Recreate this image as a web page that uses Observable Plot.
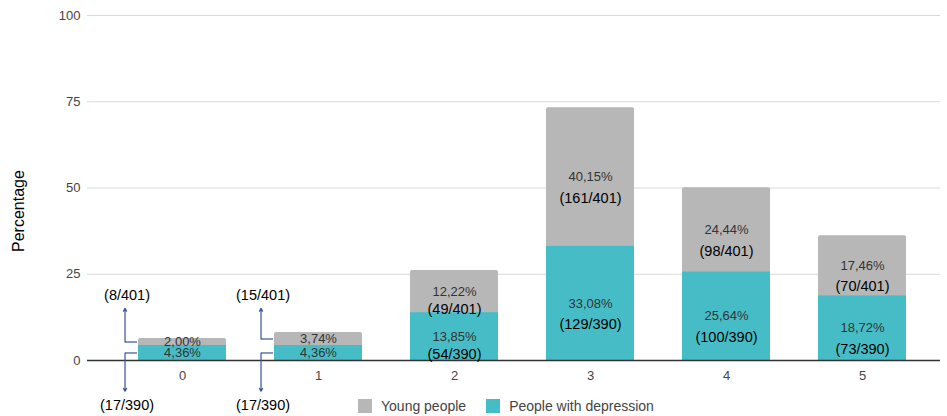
<!DOCTYPE html>
<html>
<head>
<meta charset="utf-8">
<script src="https://cdn.jsdelivr.net/npm/d3@7"></script>
<script src="https://cdn.jsdelivr.net/npm/@observablehq/plot@0.6"></script>
<style>
  html, body { margin: 0; padding: 0; background: #fff; }
  body { font-family: "Liberation Sans", Arial, sans-serif; }
  #wrap { position: relative; width: 947px; height: 416px; overflow: hidden; }
  #legend { position: absolute; top: 398px; left: 358px; display: flex; align-items: center;
            font-size: 14px; color: #444; line-height: 16px; }
  #legend .item { display: flex; align-items: center; margin-right: 20px; }
  #legend .sw { width: 14px; height: 14px; margin-right: 9px; }
</style>
</head>
<body>
<div id="wrap"></div>
<script>
// ---- data ----
const categories = ["0", "1", "2", "3", "4", "5"];
const depressionPct = [4.36, 4.36, 13.85, 33.08, 25.64, 18.72];
const youngPct = [2.00, 3.74, 12.22, 40.15, 24.44, 17.46];
const depressionCounts = ["(17/390)", "(17/390)", "(54/390)", "(129/390)", "(100/390)", "(73/390)"];
const youngCounts = ["(8/401)", "(15/401)", "(49/401)", "(161/401)", "(98/401)", "(70/401)"];
const yTicks = [0, 25, 50, 75, 100];
const seriesNames = ["Young people", "People with depression"];
const seriesColors = ["#b7b7b7", "#46bdc6"];

// ---- layout ----
const xRange = [88, 957];
const xPadding = 0.35;
const bw = d3.scaleBand(categories, xRange).padding(xPadding).bandwidth();
const gap = 13;
const leaderColor = "#34549a";
const leaderEnd = {top: 15.1, bottom: -8.9};
const leaderLabel = {top: 18.8, bottom: -13.0};

const rows = [];
categories.forEach((c, i) => {
  rows.push({cat: c, series: seriesNames[1], part: "bottom", y1: 0, y2: depressionPct[i], value: depressionPct[i], count: depressionCounts[i]});
  rows.push({cat: c, series: seriesNames[0], part: "top", y1: depressionPct[i], y2: depressionPct[i] + youngPct[i], value: youngPct[i], count: youngCounts[i]});
});
rows.forEach(r => r.mid = (r.y1 + r.y2) / 2);
const fmt = v => v.toFixed(2).replace(".", ",") + "%";
const insideBig = rows.filter(r => r.value >= 15);
const insideSmall = rows.filter(r => r.value >= 5 && r.value < 15);
const outside = rows.filter(r => r.value < 5);
const topRows = rows.filter(r => r.part === "top");
const bottomRows = rows.filter(r => r.part === "bottom");

const chart = Plot.plot({
  width: 947,
  height: 416,
  marginLeft: 87,
  marginRight: 7,
  marginTop: 15,
  marginBottom: 56,
  style: {fontFamily: "'Liberation Sans', Arial, sans-serif", fontSize: "13px", color: "#444", background: "#fff", overflow: "visible"},
  x: {domain: categories, range: xRange, padding: xPadding, label: null, tickSize: 0, tickPadding: 10},
  y: {domain: [0, 100], ticks: yTicks, tickSize: 0, tickPadding: 7, label: null},
  color: {domain: seriesNames, range: seriesColors},
  marks: [
    Plot.ruleY(yTicks.filter(t => t > 0), {stroke: "#d9d9d9"}),
    // full stacked height in grey (rounded top), depression part drawn over it
    Plot.barY(topRows, {x: "cat", y1: 0, y2: "y2", fill: "series", rx: 2}),
    Plot.barY(bottomRows, {x: "cat", y1: "y1", y2: "y2", fill: "series"}),
    Plot.ruleY([0], {stroke: "#333", strokeWidth: 1.3}),
    Plot.text(rows, {x: "cat", y: "mid", text: d => fmt(d.value), fill: "#333", fontSize: 13}),
    Plot.text(insideBig, {x: "cat", y: "mid", text: "count", dy: 21, fill: "#000", fontSize: 14.5}),
    Plot.text(insideSmall, {x: "cat", y: "mid", text: "count", dy: 17.5, fill: "#000", fontSize: 14.5}),
    Plot.tickY(outside, {x: "cat", y: "mid", dx: -gap, insetRight: bw - gap, stroke: leaderColor, strokeWidth: 1.2}),
    Plot.arrow(outside, {x1: "cat", x2: "cat", y1: "mid", y2: d => leaderEnd[d.part], dx: -(bw / 2 + gap), stroke: leaderColor, strokeWidth: 1.2, headLength: 4}),
    Plot.text(outside, {x: "cat", y: d => leaderLabel[d.part], text: "count", dx: -(bw / 2 + gap) + 2, fill: "#000", fontSize: 14.5}),
    Plot.text(["Percentage"], {text: d => d, frameAnchor: "left", rotate: -90, dx: -69, dy: 64, fill: "#000", fontSize: 16})
  ]
});

const wrap = document.getElementById("wrap");
wrap.appendChild(chart);

const legend = document.createElement("div");
legend.id = "legend";
seriesNames.forEach((name, i) => {
  const item = document.createElement("div");
  item.className = "item";
  const sw = document.createElement("span");
  sw.className = "sw";
  sw.style.background = seriesColors[i];
  const label = document.createElement("span");
  label.textContent = name;
  item.appendChild(sw);
  item.appendChild(label);
  legend.appendChild(item);
});
wrap.appendChild(legend);
</script>
</body>
</html>
